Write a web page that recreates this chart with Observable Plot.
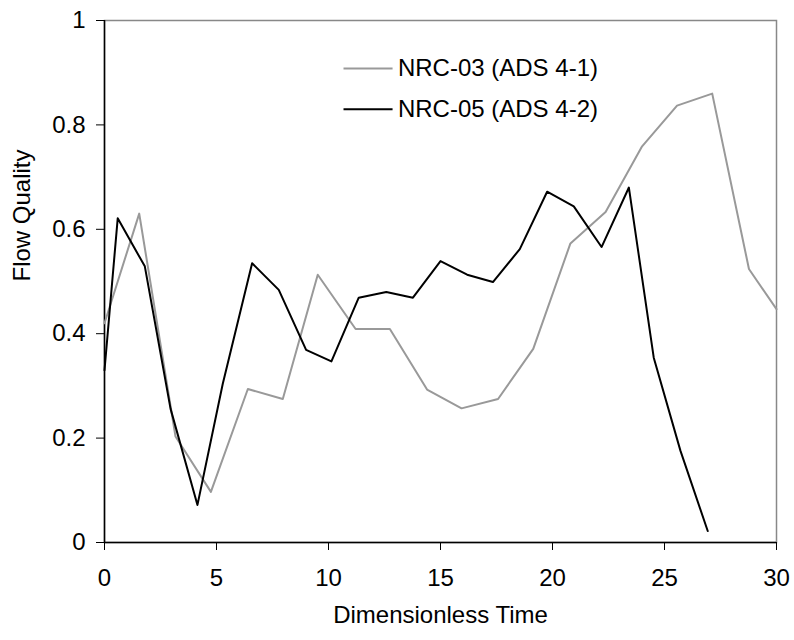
<!DOCTYPE html>
<html>
<head>
<meta charset="utf-8">
<script src="https://cdn.jsdelivr.net/npm/d3@7"></script>
<script src="https://cdn.jsdelivr.net/npm/@observablehq/plot@0.6"></script>
<style>
  html, body { margin: 0; padding: 0; background: #fff; }
  #chart svg { display: block; }
</style>
</head>
<body>
<div id="chart"></div>
<script>
// NRC-03 (ADS 4-1) — gray
const nrc03Time = [0, 1.55, 3.17, 4.75, 6.40, 7.96, 9.52, 11.21, 12.74, 14.40, 15.94, 17.57, 19.14, 20.80, 22.37, 24.0, 25.56, 27.13, 28.77, 30.0];
const nrc03Quality = [0.42, 0.630, 0.203, 0.097, 0.294, 0.275, 0.513, 0.409, 0.409, 0.293, 0.257, 0.275, 0.371, 0.573, 0.633, 0.759, 0.837, 0.860, 0.524, 0.447];
// NRC-05 (ADS 4-2) — black
const nrc05Time = [0, 0.59, 1.80, 2.95, 4.15, 5.28, 6.59, 7.78, 9.0, 10.13, 11.35, 12.58, 13.77, 15.0, 16.19, 17.34, 18.54, 19.76, 20.95, 22.19, 23.41, 24.52, 25.71, 26.93];
const nrc05Quality = [0.33, 0.621, 0.529, 0.256, 0.072, 0.304, 0.535, 0.484, 0.369, 0.347, 0.469, 0.480, 0.469, 0.539, 0.513, 0.499, 0.562, 0.672, 0.644, 0.566, 0.680, 0.354, 0.176, 0.022];

const seriesNames = ["NRC-03 (ADS 4-1)", "NRC-05 (ADS 4-2)"];
const seriesColors = ["#999999", "#000000"];
const xTicks = [0, 5, 10, 15, 20, 25, 30];
const yTicks = [0, 0.2, 0.4, 0.6, 0.8, 1];

const data = [
  ...nrc03Time.map((t, i) => ({series: seriesNames[0], t, q: nrc03Quality[i]})),
  ...nrc05Time.map((t, i) => ({series: seriesNames[1], t, q: nrc05Quality[i]}))
];

// legend entries positioned in data space inside the plot
const legend = seriesNames.map((name, i) => ({name, color: seriesColors[i], y: i === 0 ? 0.908 : 0.83}));

const font = "'Liberation Sans', Arial, Helvetica, sans-serif";
const fs = 24;

const chart = Plot.plot({
  width: 794,
  height: 640,
  marginLeft: 104,
  marginRight: 18,
  marginTop: 20,
  marginBottom: 98,
  style: {fontFamily: font, fontSize: fs + "px", color: "#000", background: "#fff"},
  x: {domain: [0, 30], ticks: xTicks},
  y: {domain: [0, 1], ticks: yTicks},
  marks: [
    Plot.frame({stroke: "#888", strokeWidth: 1.5}),
    Plot.ruleX([0], {stroke: "#000", strokeWidth: 1.5}),
    Plot.ruleY([0], {stroke: "#000", strokeWidth: 1.5}),
    Plot.axisX({ticks: xTicks, tickSize: 8, tickPadding: 18, fontSize: fs, label: null, tickFormat: d => String(d)}),
    Plot.axisY({ticks: yTicks, tickSize: 8, tickPadding: 11, fontSize: fs, label: null, tickFormat: d => String(d)}),
    Plot.line(data.filter(d => d.series === seriesNames[0]), {x: "t", y: "q", stroke: seriesColors[0], strokeWidth: 2}),
    Plot.line(data.filter(d => d.series === seriesNames[1]), {x: "t", y: "q", stroke: seriesColors[1], strokeWidth: 2}),
    Plot.link(legend, {x1: 10.67, x2: 12.86, y1: "y", y2: "y", stroke: "color", strokeWidth: 2}),
    Plot.text(legend, {x: 13.1, y: "y", text: "name", textAnchor: "start", fontSize: fs, fill: "#000"}),
    Plot.text(["Flow Quality"], {frameAnchor: "left", dx: -82, rotate: -90, fontSize: fs, fill: "#000"}),
    Plot.text(["Dimensionless Time"], {frameAnchor: "bottom", dy: 80, fontSize: fs, fill: "#000"})
  ]
});
document.getElementById("chart").appendChild(chart);
</script>
</body>
</html>
